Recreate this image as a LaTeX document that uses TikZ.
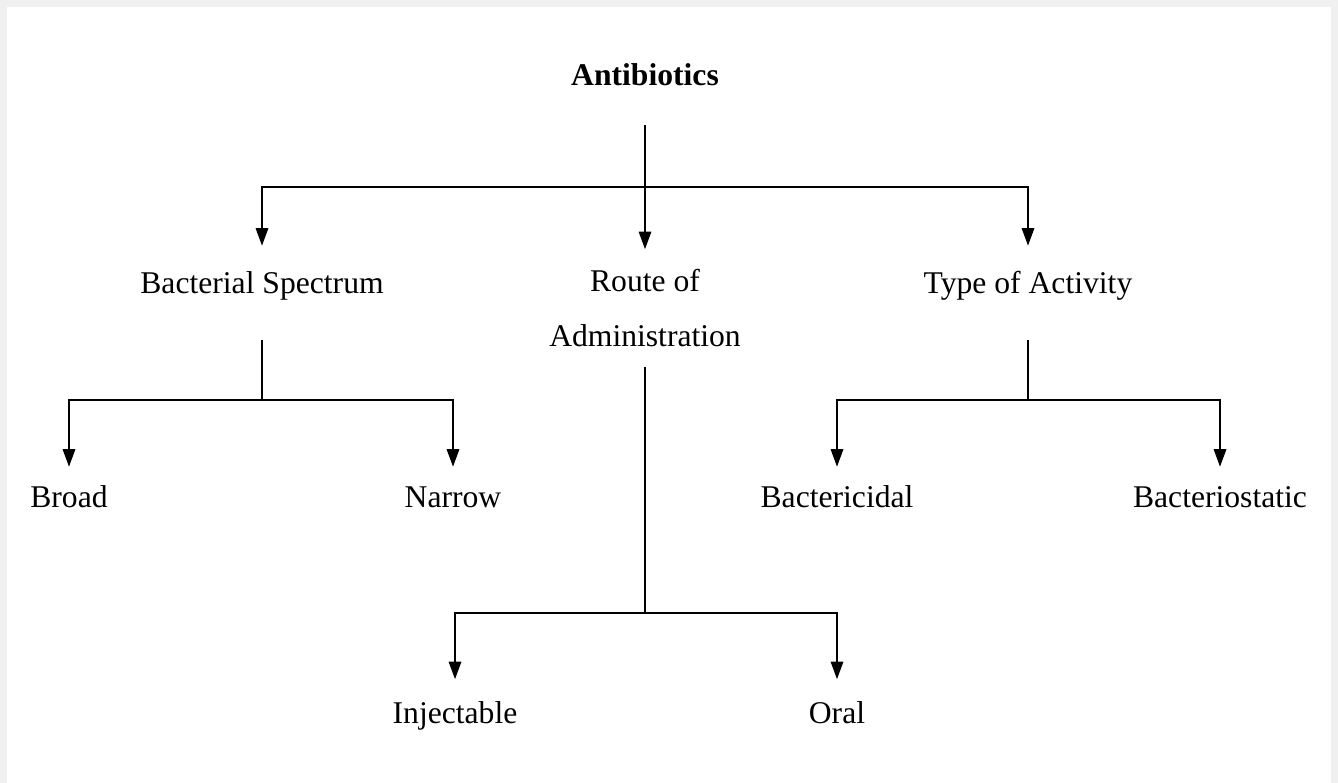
\documentclass[tikz,border=0pt]{standalone}
\usepackage{fontspec}
\setmainfont{Liberation Serif}
\usetikzlibrary{arrows.meta}
\begin{document}
\begin{tikzpicture}[x=0.02cm, y=-0.02cm, font=\fontsize{18}{31}\selectfont,
    lbl/.style={text height=1.5ex, text depth=.25ex},
    link/.style={line width=1.2pt},
    arr/.style={link, -{Triangle[length=10pt,width=7pt]}}]
    \useasboundingbox (0,0) rectangle (1338,783);
    \fill[gray!12] (0,0) rectangle (1338,783);
    \fill[white] (7,7) rectangle (1331,783);
    % labels
    \node[lbl] (anti) at (645,80) {\textbf{Antibiotics}};
    \node[lbl] (spec) at (262,288) {Bacterial Spectrum};
    \node[align=center] (route) at (645,308) {Route of\\Administration};
    \node[lbl] (act) at (1028,288) {Type of Activity};
    \node[lbl] (broad) at (69,502) {Broad}; \node[lbl] (narrow) at (453,502) {Narrow};
    \node[lbl] (bcid) at (837,502) {Bactericidal}; \node[lbl] (bstat) at (1220,502) {Bacteriostatic};
    \node[lbl] (inj) at (455,718) {Injectable}; \node[lbl] (oral) at (837,718) {Oral};
    % junctions
    \coordinate (j1) at (645,187); \coordinate (j2) at (262,400);
    \coordinate (j3) at (1028,400); \coordinate (j4) at (645,613);
    \foreach \p/\j/\s in {anti/j1/18pt, spec/j2/22pt, act/j3/22pt, route/j4/8pt}
        \draw[link, shorten <=\s] (\p) -- (\j);
    \foreach \j/\c/\s in {j1/spec/16.5pt, j1/route/8pt, j1/act/16.5pt, j2/broad/12.5pt, j2/narrow/12.5pt,
        j3/bcid/12.5pt, j3/bstat/12.5pt, j4/inj/14.5pt, j4/oral/14.5pt}
        \draw[arr, shorten >=\s] (\j) -| (\c);
\end{tikzpicture}
\end{document}
